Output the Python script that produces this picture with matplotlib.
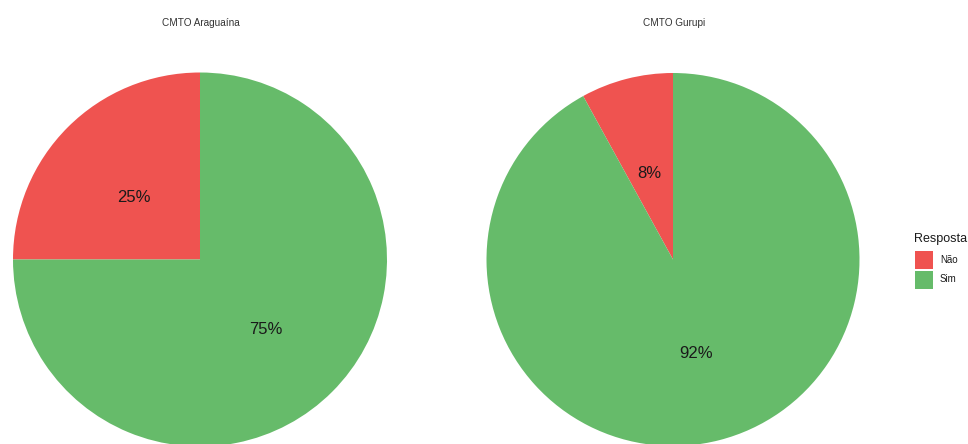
import matplotlib
matplotlib.use("Agg")
from matplotlib import pyplot as plt
from matplotlib.patches import Rectangle

plt.rcParams['font.family'] = ['Liberation Sans', 'DejaVu Sans']

# answers per unit (percent)
units = ['CMTO Araguaína', 'CMTO Gurupi']
answers = ['Não', 'Sim']
pct_araguaina = [25, 75]
pct_gurupi = [8, 92]
colors = ['#EF5350', '#66BB6A']

W, H = 968, 444
fig = plt.figure(figsize=(W / 100, H / 100), dpi=100)

def fx(px):
	return px / W

def fy(py):
	# pixel rows counted from the top
	return 1 - py / H

def pie_axes(cx, cy, r):
	# square axes centred on a pixel position
	return fig.add_axes([fx(cx - r), fy(cy + r), 2 * r / W, 2 * r / H])

panels = [
	(units[0], pct_araguaina, 200, 259.5, 187),
	(units[1], pct_gurupi, 673, 259.5, 186.5),
]

for title, values, cx, cy, r in panels:
	ax = pie_axes(cx, cy, r)
	wedges, texts, autotexts = ax.pie(values, colors=colors, startangle=90,
		counterclock=True, autopct=lambda p: '%d%%' % round(p),
		pctdistance=0.5, wedgeprops=dict(linewidth=0),
		textprops=dict(fontsize=12, color='#1a1a1a'))
	# nudge the percentages a few pixels down
	for t in autotexts:
		x, y = t.get_position()
		t.set_position((x, y - 4 / r))
	ax.set_xlim(-1, 1)
	ax.set_ylim(-1, 1)
	ax.axis('off')
	fig.text(fx(cx + 1), fy(23), title, ha='center', va='center',
		fontsize=7.2, color='#333333')

# legend drawn by hand
fig.text(fx(914), fy(239), 'Resposta', ha='left', va='center',
	fontsize=9, color='#1a1a1a')
for i, (lab, c) in enumerate(zip(answers, colors)):
	top = 251 + i * 19.5
	fig.patches.append(Rectangle((fx(915), fy(top + 18)), 18 / W, 18 / H,
		transform=fig.transFigure, facecolor=c, edgecolor='none'))
	fig.text(fx(940), fy(top + 9), lab, ha='left', va='center',
		fontsize=7, color='#1a1a1a')

fig.savefig('out.png', dpi=100)
